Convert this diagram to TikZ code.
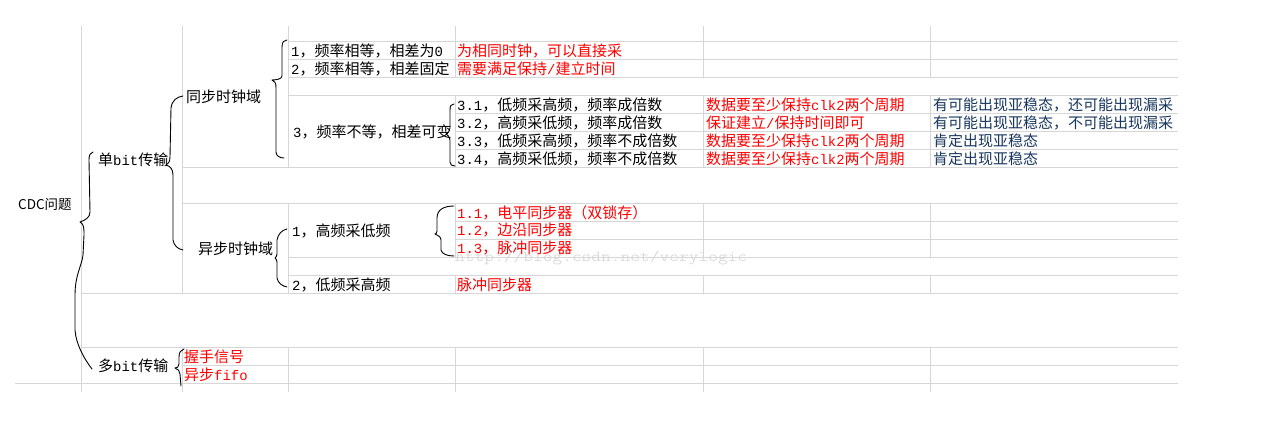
\documentclass[tikz,border=0pt]{standalone}
\usepackage{fontspec}
\usepackage{graphicx}
\setmainfont{Noto Sans CJK SC}
\newfontfamily\lat{Liberation Mono}[Scale=0.93]
\newcommand{\hw}[1]{{\lat #1}}
\definecolor{gridc}{RGB}{214,214,214}
\definecolor{redc}{RGB}{255,0,0}
\definecolor{navyc}{RGB}{23,54,93}
\definecolor{wmc}{RGB}{218,218,218}
\begin{document}
\begin{tikzpicture}[x=1pt,y=-1pt,
  gridline/.style={draw=gridc, line width=1pt},
  bracepath/.style={draw=black, line width=0.9pt, line join=round, line cap=round},
  lbl/.style={anchor=west, inner sep=0pt, font=\fontsize{15}{18}\selectfont, text=black},
  redtxt/.style={lbl, text=redc},
  navytxt/.style={lbl, text=navyc}]
\useasboundingbox (0,0) rectangle (1268,427);
% ---- grid: horizontal lines
\foreach \y in {41.5,59.5,77.5,95.5} \draw[gridline] (288.5,\y) -- (1178,\y);
\foreach \y in {113.5,131.5,149.5,221.5,239.5} \draw[gridline] (455,\y) -- (1178,\y);
\foreach \y in {167.5,203.5,365.5} \draw[gridline] (182.5,\y) -- (1178,\y);
\foreach \y in {257.5,275.5} \draw[gridline] (288.5,\y) -- (1178,\y);
\foreach \y in {293.5,347.5} \draw[gridline] (81.5,\y) -- (1178,\y);
\draw[gridline] (15,383.5) -- (1178,383.5);
% ---- grid: vertical lines
\draw[gridline] (81.5,26) -- (81.5,392);
\draw[gridline] (182.5,26) -- (182.5,293.5) (182.5,347.5) -- (182.5,392);
\draw[gridline] (288.5,26) -- (288.5,167.5) (288.5,203.5) -- (288.5,293.5) (288.5,347.5) -- (288.5,392);
\foreach \x in {455,703.5,930}
  \draw[gridline] (\x,26) -- (\x,77.5) (\x,95.5) -- (\x,167.5) (\x,203.5) -- (\x,257.5)
                  (\x,275.5) -- (\x,293.5) (\x,347.5) -- (\x,392);
% ---- watermark
\node[anchor=base west, inner sep=0pt, text=wmc] (wm) at (455,262)
  {\scalebox{1.26}[1]{\fontsize{15}{15}\selectfont\ttfamily http://blog.csdn.net/verylogic}};
% ---- labels
\node[lbl, font=\fontsize{13.5}{16}\selectfont] (cdc) at (18,204.5) {CDC问题};
\node[lbl] (single) at (98,159.5) {单\hw{bit}传输};
\node[lbl] (multi) at (98,365.5) {多\hw{bit}传输};
\node[lbl] (sync) at (186,96.5) {同步时钟域};
\node[lbl] (async) at (198,248.5) {异步时钟域};
\node[lbl] (s1) at (291,50.5) {\hw{1}，频率相等，相差为\hw{0}};
\node[lbl] (s2) at (291,68.5) {\hw{2}，频率相等，相差固定};
\node[lbl] (s3) at (293,131.5) {\hw{3}，频率不等，相差可变};
\node[lbl] (a1) at (292,230.5) {\hw{1}，高频采低频};
\node[lbl] (a2) at (292,284.5) {\hw{2}，低频采高频};
\node[redtxt] (s1r) at (457,50.5) {为相同时钟，可以直接采};
\node[redtxt] (s2r) at (457,68.5) {需要满足保持\hw{/}建立时间};
\node[lbl] (s31) at (457,104.5) {\hw{3.1}，低频采高频，频率成倍数};
\node[lbl] (s32) at (457,122.5) {\hw{3.2}，高频采低频，频率成倍数};
\node[lbl] (s33) at (457,140.5) {\hw{3.3}，低频采高频，频率不成倍数};
\node[lbl] (s34) at (457,158.5) {\hw{3.4}，高频采低频，频率不成倍数};
\node[redtxt] (s31r) at (706,104.5) {数据要至少保持\hw{clk2}两个周期};
\node[redtxt] (s32r) at (706,122.5) {保证建立\hw{/}保持时间即可};
\node[redtxt] (s33r) at (706,140.5) {数据要至少保持\hw{clk2}两个周期};
\node[redtxt] (s34r) at (706,158.5) {数据要至少保持\hw{clk2}两个周期};
\node[navytxt] (s31n) at (933,104.5) {有可能出现亚稳态，还可能出现漏采};
\node[navytxt] (s32n) at (933,122.5) {有可能出现亚稳态，不可能出现漏采};
\node[navytxt] (s33n) at (933,140.5) {肯定出现亚稳态};
\node[navytxt] (s34n) at (933,158.5) {肯定出现亚稳态};
\node[redtxt] (a11) at (457,212.5) {\hw{1.1}，电平同步器（双锁存）};
\node[redtxt] (a12) at (457,230.5) {\hw{1.2}，边沿同步器};
\node[redtxt] (a13) at (457,248.5) {\hw{1.3}，脉冲同步器};
\node[redtxt] (a2r) at (457,284.5) {脉冲同步器};
\node[redtxt] (m1) at (184,356.5) {握手信号};
\node[redtxt] (m2) at (184,374.5) {异步\hw{fifo}};
% ---- hand-drawn braces
% CDC
\draw[bracepath] (93,152) .. controls (90,153) and (89,155) .. (89,160) -- (90,212)
  .. controls (90,217) and (86,220) .. (80,222) .. controls (84,224) and (84,228) .. (84,235)
  -- (83,255) .. controls (82,265) and (75,275) .. (75,295) -- (75,330)
  .. controls (76,345) and (85,360) .. (92,369);
% single bit
\draw[bracepath] (183,96) .. controls (177,97) and (172,100) .. (171,108) -- (170,157)
  .. controls (170,162) and (168,164) .. (166,165) .. controls (170,166) and (173,169) .. (173,175)
  -- (173,240) .. controls (174,246) and (178,249) .. (183,250);
% sync domain
\draw[bracepath] (287,40) .. controls (284,40) and (282,42) .. (282,47) -- (282,76)
  .. controls (282,79) and (276,80) .. (272,80) .. controls (275,81) and (276,83) .. (276,88)
  -- (276,152) .. controls (276,156) and (280,158) .. (284,158);
% case 3
\draw[bracepath] (454,104) .. controls (451,104) and (450,106) .. (450,110) -- (450,128)
  .. controls (450,131) and (448,133) .. (446,134) .. controls (448,135) and (450,137) .. (450,140)
  -- (450,162) .. controls (450,165) and (452,166) .. (455,166);
% async domain
\draw[bracepath] (287,229) .. controls (282,230) and (278,234) .. (277,240) -- (277,254)
  .. controls (277,256) and (276,257) .. (275,258) .. controls (276,259) and (277,260) .. (277,262)
  -- (277,278) .. controls (278,283) and (282,286) .. (287,287);
% high samples low
\draw[bracepath] (454,206) .. controls (445,206) and (437,209) .. (437,218) -- (437,231)
  .. controls (437,233) and (436,234) .. (435,234) .. controls (438,235) and (441,237) .. (441,240)
  -- (441,250) .. controls (442,254) and (447,256) .. (454,256);
% multi bit
\draw[bracepath] (184,349) .. controls (181,350) and (179,352) .. (179,357) -- (179,364)
  .. controls (179,367) and (177,368) .. (175,368) .. controls (178,369) and (180,371) .. (180,374)
  -- (181,386);
\end{tikzpicture}
\end{document}
